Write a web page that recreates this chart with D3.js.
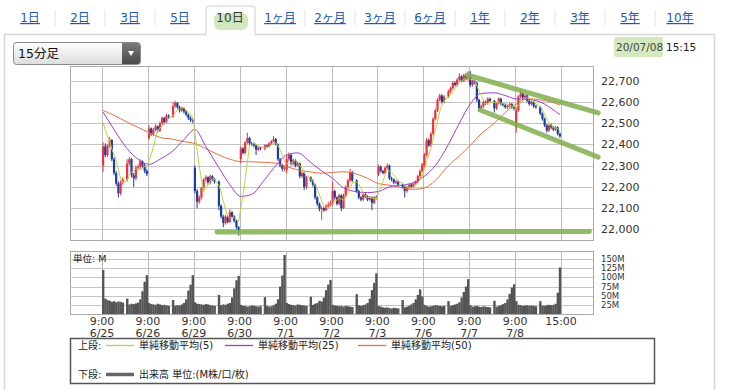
<!DOCTYPE html>
<html>
<head>
<meta charset="utf-8">
<script src="https://cdn.jsdelivr.net/npm/d3@7"></script>
<style>
  body { margin: 0; background: #fff; }
  svg { display: block; font-family: "DejaVu Sans", "Noto Sans CJK JP", sans-serif; }
</style>
</head>
<body>
<svg id="chart"></svg>
<script>
const d3 = window.d3;

// ---- data ----
const periodTabs = ["1日", "2日", "3日", "5日", "10日", "1ヶ月", "2ヶ月", "3ヶ月", "6ヶ月", "1年", "2年", "3年", "5年", "10年"];
const selectedTab = "10日";
const dayLabels = ["6/25", "6/26", "6/29", "6/30", "7/1", "7/2", "7/3", "7/6", "7/7", "7/8"];
const priceTicks = [22000, 22100, 22200, 22300, 22400, 22500, 22600, 22700];
const volumeTicks = [25, 50, 75, 100, 125, 150];

// 15 minute bars [open, high, low, close], 10 morning + 10 afternoon per day
const bars0625 = [[22300,22410,22270,22390],[22390,22405,22340,22350],[22350,22400,22340,22395],[22395,22435,22385,22420],[22420,22425,22320,22330],[22330,22340,22255,22265],[22265,22275,22205,22215],[22215,22225,22150,22170],[22170,22230,22160,22220],[22220,22245,22210,22235],
  [22235,22330,22225,22310],[22310,22340,22300,22330],[22330,22335,22245,22255],[22255,22265,22200,22240],[22240,22300,22230,22290],[22290,22305,22280,22295],[22295,22330,22285,22320],[22320,22325,22290,22300],[22300,22310,22265,22275],[22275,22285,22250,22260]];
const bars0626 = [[22430,22490,22420,22475],[22475,22480,22440,22450],[22450,22478,22440,22470],[22470,22495,22462,22485],[22485,22490,22455,22465],[22465,22508,22458,22500],[22500,22532,22492,22525],[22525,22530,22495,22505],[22505,22545,22500,22535],[22535,22542,22522,22530],
  [22530,22600,22525,22580],[22580,22605,22572,22595],[22595,22600,22568,22575],[22575,22582,22550,22560],[22560,22578,22552,22570],[22570,22575,22545,22555],[22555,22562,22532,22540],[22540,22545,22515,22525],[22525,22532,22505,22515],[22515,22522,22500,22512]];
const bars0629 = [[22290,22300,22170,22180],[22180,22190,22100,22130],[22130,22160,22120,22150],[22150,22200,22140,22195],[22195,22240,22185,22235],[22235,22255,22225,22245],[22245,22250,22210,22220],[22220,22258,22212,22250],[22250,22255,22228,22235],[22235,22242,22215,22225],
  [22225,22230,22090,22110],[22110,22118,22050,22060],[22060,22068,22010,22030],[22030,22068,22022,22060],[22060,22065,22028,22035],[22035,22095,22030,22080],[22080,22085,22052,22060],[22060,22066,22032,22040],[22040,22045,22002,22010],[22010,22015,21970,21995]];
const bars0630 = [[22330,22390,22310,22380],[22380,22388,22352,22360],[22360,22415,22352,22410],[22410,22455,22402,22430],[22430,22435,22398,22405],[22405,22412,22392,22400],[22400,22408,22385,22395],[22395,22400,22350,22375],[22375,22392,22368,22385],[22385,22390,22372,22380],
  [22380,22400,22372,22395],[22395,22400,22382,22390],[22390,22410,22385,22405],[22405,22420,22398,22415],[22415,22440,22410,22425],[22425,22430,22395,22400],[22400,22405,22322,22330],[22330,22336,22292,22300],[22300,22308,22272,22285],[22285,22298,22275,22290]];
const bars0701 = [[22280,22350,22265,22330],[22330,22362,22322,22350],[22350,22355,22300,22310],[22310,22332,22302,22325],[22325,22330,22292,22300],[22300,22318,22295,22310],[22310,22315,22240,22250],[22250,22272,22242,22265],[22265,22270,22185,22200],[22200,22252,22190,22245],
  [22245,22250,22222,22230],[22230,22236,22200,22210],[22210,22215,22140,22150],[22150,22156,22110,22120],[22120,22126,22085,22095],[22095,22110,22045,22100],[22100,22106,22082,22090],[22090,22118,22085,22110],[22110,22130,22102,22115],[22115,22135,22108,22121]];
const bars0702 = [[22120,22225,22110,22180],[22180,22186,22140,22150],[22150,22156,22112,22120],[22120,22168,22112,22160],[22160,22165,22085,22100],[22100,22168,22095,22160],[22160,22206,22152,22200],[22200,22238,22192,22230],[22230,22285,22222,22270],[22270,22275,22222,22230],
  [22230,22236,22172,22180],[22180,22186,22142,22150],[22150,22158,22132,22140],[22140,22172,22134,22165],[22165,22170,22148,22155],[22155,22160,22132,22140],[22140,22158,22134,22150],[22150,22155,22090,22125],[22125,22158,22118,22150],[22150,22160,22140,22146]];
const bars0703 = [[22260,22305,22250,22295],[22295,22300,22268,22275],[22275,22280,22258,22265],[22265,22295,22258,22290],[22290,22310,22282,22300],[22300,22305,22232,22240],[22240,22248,22226,22235],[22235,22240,22212,22220],[22220,22232,22212,22225],[22225,22230,22202,22210],
  [22210,22215,22192,22200],[22200,22206,22150,22180],[22180,22200,22172,22195],[22195,22215,22188,22210],[22210,22216,22192,22200],[22200,22220,22194,22215],[22215,22230,22208,22225],[22225,22256,22218,22250],[22250,22282,22242,22275],[22275,22312,22268,22306]];
const bars0706 = [[22300,22360,22290,22350],[22350,22430,22342,22420],[22420,22428,22388,22395],[22395,22458,22388,22450],[22450,22528,22442,22520],[22520,22568,22512,22560],[22560,22618,22552,22610],[22610,22638,22602,22630],[22630,22636,22592,22600],[22600,22632,22594,22625],
  [22625,22658,22618,22650],[22650,22672,22642,22665],[22665,22698,22658,22690],[22690,22696,22672,22680],[22680,22712,22674,22705],[22705,22735,22698,22720],[22720,22726,22692,22700],[22700,22732,22694,22725],[22725,22730,22702,22710],[22710,22745,22700,22714]];
const bars0707 = [[22720,22745,22670,22680],[22680,22708,22672,22700],[22700,22706,22682,22690],[22690,22696,22600,22610],[22610,22616,22555,22570],[22570,22588,22562,22580],[22580,22608,22572,22600],[22600,22606,22586,22595],[22595,22622,22588,22615],[22615,22620,22598,22605],
  [22605,22610,22550,22570],[22570,22600,22562,22595],[22595,22622,22588,22615],[22615,22620,22582,22590],[22590,22596,22578,22585],[22585,22592,22568,22575],[22575,22586,22566,22580],[22580,22596,22572,22590],[22590,22595,22568,22575],[22575,22582,22560,22570]];
const bars0708 = [[22480,22575,22455,22560],[22560,22632,22552,22625],[22625,22660,22618,22640],[22640,22646,22612,22620],[22620,22636,22612,22630],[22630,22635,22598,22605],[22605,22612,22582,22590],[22590,22606,22584,22600],[22600,22605,22572,22580],[22580,22586,22568,22575],
  [22575,22580,22538,22545],[22545,22550,22512,22520],[22520,22526,22482,22490],[22490,22496,22455,22465],[22465,22496,22458,22490],[22490,22498,22472,22480],[22480,22486,22462,22470],[22470,22488,22464,22480],[22480,22485,22442,22450],[22450,22456,22430,22438]];

// volume per bar, millions
const vol0625 = [120, 42, 38, 36, 33, 35, 32, 34, 33, 31, 42, 26, 28, 27, 29, 31, 40, 62, 88, 106];
const vol0626 = [30, 27, 26, 25, 28, 26, 24, 25, 23, 22, 38, 22, 24, 23, 26, 30, 40, 64, 80, 106];
const vol0629 = [32, 28, 27, 26, 25, 27, 26, 24, 23, 22, 52, 24, 26, 25, 28, 30, 45, 70, 92, 104];
const vol0630 = [25, 22, 22, 20, 21, 23, 22, 21, 20, 22, 46, 22, 20, 21, 24, 28, 40, 75, 105, 161];
const vol0701 = [30, 27, 25, 24, 23, 26, 25, 24, 23, 22, 47, 25, 28, 30, 36, 34, 45, 65, 80, 93];
const vol0702 = [25, 23, 22, 21, 22, 20, 22, 21, 20, 19, 54, 24, 22, 24, 26, 30, 42, 65, 85, 111];
const vol0703 = [22, 20, 18, 17, 18, 16, 15, 17, 16, 15, 38, 18, 20, 22, 26, 30, 40, 52, 67, 48];
const vol0706 = [25, 22, 20, 21, 22, 24, 23, 22, 21, 22, 35, 22, 24, 26, 28, 32, 45, 60, 75, 95];
const vol0707 = [24, 20, 21, 22, 20, 19, 21, 20, 19, 18, 36, 20, 22, 24, 27, 30, 40, 55, 72, 81];
const vol0708 = [35, 25, 24, 22, 23, 24, 22, 23, 22, 21, 35, 23, 22, 24, 25, 24, 25, 28, 58, 127];

// last closes of 6/24, needed for the first 5 bar average
const prevCloses = [22530, 22540, 22520, 22534];

// 25 and 50 bar averages, read every 5 bars (and the last bar)
const ma25Read = [22552, 22470, 22380, 22330, 22306, 22330, 22370, 22423, 22470, 22390, 22290, 22210, 22155, 22165, 22235, 22300, 22350, 22360, 22315, 22275, 22240, 22195, 22177, 22173, 22178, 22200, 22208, 22220, 22250, 22300, 22400, 22500, 22590, 22640, 22643, 22630, 22614, 22612, 22600, 22570, 22540];
const ma50Read = [22560, 22537, 22505, 22480, 22455, 22433, 22424, 22413, 22404, 22380, 22350, 22330, 22319, 22318, 22315, 22312, 22295, 22280, 22270, 22264, 22268, 22271, 22260, 22240, 22215, 22208, 22195, 22188, 22195, 22230, 22300, 22345, 22396, 22450, 22500, 22550, 22590, 22615, 22610, 22600, 22585];

// hand drawn trend lines: [slot, price]
const trendLines = [
  [[52.6, 21987], [223, 21990]],
  [[167, 22727], [227, 22548]],
  [[173, 22562], [227, 22340]]
];

const dayBars = [bars0625, bars0626, bars0629, bars0630, bars0701, bars0702, bars0703, bars0706, bars0707, bars0708];
const dayVols = [vol0625, vol0626, vol0629, vol0630, vol0701, vol0702, vol0703, vol0706, vol0707, vol0708];

// flatten: 21 time slots a day, slot 10 is the lunch break
const bars = [];
dayBars.forEach((day, d) => {
  day.forEach((b, j) => {
    bars.push({ slot: d * 21 + (j < 10 ? j : j + 1), o: b[0], h: b[1], l: b[2], c: b[3], v: dayVols[d][j] });
  });
});

// simple 5 bar average of closes
const closes = prevCloses.concat(bars.map(b => b.c));
const ma5 = bars.map((b, i) => ({ slot: b.slot, v: d3.mean(closes.slice(i, i + 5)) }));

const maIdx = d3.range(0, bars.length, 5).concat([bars.length - 1]);
const ma25 = maIdx.map((i, k) => ({ slot: bars[i].slot, v: ma25Read[k] }));
const ma50 = maIdx.map((i, k) => ({ slot: bars[i].slot, v: ma50Read[k] }));

// ---- layout ----
const W = 729, H = 390;
const plot = { left: 70, right: 593 };
const pricePanel = { top: 66, bottom: 240 };
const volPanel = { top: 251, bottom: 314 };

const svg = d3.select('#chart').attr('width', W).attr('height', H);

const x = d3.scaleLinear().domain([0, 210]).range([102, 561]);
const y = d3.scaleLinear().domain([22000, 22700]).range([229.3, 80.7]);
const yv = d3.scaleLinear().domain([0, 150]).range([314, 259]);

// outer panel
svg.append('rect')
  .attr('x', 4.5).attr('y', 34.5).attr('width', 710).attr('height', 370)
  .attr('fill', '#fff').attr('stroke', '#d6d6d6').attr('stroke-width', 1.5);

// ---- period tabs ----
const tabX = d3.scalePoint().domain(periodTabs).range([30, 680]);
const tabs = svg.append('g');
const selX = tabX(selectedTab);
tabs.append('path')
  .attr('d', `M${selX - 24},35 L${selX - 24},9 Q${selX - 24},6 ${selX - 21},6 L${selX + 22},6 Q${selX + 25},6 ${selX + 25},9 L${selX + 25},35`)
  .attr('fill', '#fff').attr('stroke', '#cfcfcf');
tabs.append('line')
  .attr('x1', selX - 23.5).attr('x2', selX + 24.5).attr('y1', 34.5).attr('y2', 34.5)
  .attr('stroke', '#fff').attr('stroke-width', 2);
// highlighter mark under the selected tab
tabs.append('rect')
  .attr('x', selX - 16).attr('y', 13).attr('width', 34).attr('height', 17).attr('rx', 6)
  .attr('fill', '#a9d58a').attr('opacity', 0.55);

periodTabs.forEach((t, i) => {
  if (i > 0 && t !== selectedTab && periodTabs[i - 1] !== selectedTab) {
    const sx = (tabX(t) + tabX(periodTabs[i - 1])) / 2;
    tabs.append('line').attr('x1', sx).attr('x2', sx).attr('y1', 10).attr('y2', 26)
      .attr('stroke', '#e2e2e2');
  }
  tabs.append('text')
    .attr('x', tabX(t)).attr('y', 22)
    .attr('text-anchor', 'middle')
    .attr('font-size', 12)
    .attr('fill', t === selectedTab ? '#333' : '#2358b0')
    .attr('text-decoration', t === selectedTab ? 'none' : 'underline')
    .text(t);
});

// ---- interval dropdown ----
const defs = svg.append('defs');
const g1 = defs.append('linearGradient').attr('id', 'selBg').attr('x1', 0).attr('x2', 0).attr('y1', 0).attr('y2', 1);
g1.append('stop').attr('offset', '0%').attr('stop-color', '#ffffff');
g1.append('stop').attr('offset', '100%').attr('stop-color', '#dcdcdc');
const g2 = defs.append('linearGradient').attr('id', 'selBtn').attr('x1', 0).attr('x2', 0).attr('y1', 0).attr('y2', 1);
g2.append('stop').attr('offset', '0%').attr('stop-color', '#7a7a7a');
g2.append('stop').attr('offset', '100%').attr('stop-color', '#4a4a4a');

svg.append('rect').attr('x', 13.5).attr('y', 42.5).attr('width', 127).attr('height', 22).attr('rx', 3)
  .attr('fill', 'url(#selBg)').attr('stroke', '#8a8a8a');
svg.append('path').attr('d', 'M122,43 L137.5,43 Q140,43 140,45.5 L140,61.5 Q140,64 137.5,64 L122,64 Z')
  .attr('fill', 'url(#selBtn)');
svg.append('path').attr('d', 'M128,51 L134,51 L131,56 Z').attr('fill', '#fff');
svg.append('text').attr('x', 18).attr('y', 58).attr('font-size', 12.5).attr('fill', '#111').text('15分足');

// ---- timestamp ----
svg.append('rect').attr('x', 614).attr('y', 37).attr('width', 49).attr('height', 20).attr('rx', 2)
  .attr('fill', '#d3eac0');
svg.append('text').attr('x', 616).attr('y', 51).attr('font-size', 10.5).attr('fill', '#444').text('20/07/08');
svg.append('text').attr('x', 666).attr('y', 51).attr('font-size', 10.5).attr('fill', '#222').text('15:15');

// ---- grids ----
const dayTicks = d3.range(0, 210, 21);
const vTicks = dayTicks.concat([210]);

function panelGrid(top, bottom, hTicks, scale) {
  const g = svg.append('g');
  g.append('rect').attr('x', plot.left + 0.5).attr('y', top + 0.5)
    .attr('width', plot.right - plot.left).attr('height', bottom - top)
    .attr('fill', '#fff').attr('stroke', '#a8a8a8');
  g.selectAll('line.h').data(hTicks).join('line')
    .attr('x1', plot.left).attr('x2', plot.right)
    .attr('y1', d => Math.round(scale(d)) + 0.5).attr('y2', d => Math.round(scale(d)) + 0.5)
    .attr('stroke', '#c4c4c4');
  g.selectAll('line.v').data(vTicks).join('line')
    .attr('x1', d => Math.round(x(d)) + 0.5).attr('x2', d => Math.round(x(d)) + 0.5)
    .attr('y1', top).attr('y2', bottom)
    .attr('stroke', '#bcbcbc');
  return g;
}

panelGrid(pricePanel.top, pricePanel.bottom, priceTicks, y);
panelGrid(volPanel.top, volPanel.bottom, volumeTicks, yv);

// price labels
svg.append('g').selectAll('text').data(priceTicks).join('text')
  .attr('x', 601).attr('y', d => y(d) + 4)
  .attr('font-size', 11).attr('fill', '#333')
  .text(d => d3.format(',')(d));

// volume labels
svg.append('g').selectAll('text').data(volumeTicks).join('text')
  .attr('x', 601).attr('y', d => yv(d) + 3)
  .attr('font-size', 8.5).attr('fill', '#333')
  .text(d => d + 'M');

svg.append('text').attr('x', 73).attr('y', 262).attr('font-size', 9.5).attr('fill', '#222').text('単位: M');

// time labels
const timeLabels = svg.append('g').attr('font-size', 11).attr('fill', '#333').attr('text-anchor', 'middle');
dayTicks.forEach((t, d) => {
  timeLabels.append('text').attr('x', x(t)).attr('y', 325).text('9:00');
  timeLabels.append('text').attr('x', x(t)).attr('y', 337).text(dayLabels[d]);
});
timeLabels.append('text').attr('x', x(210)).attr('y', 325).text('15:00');

// ---- candles ----
const upColor = '#e8343c', downColor = '#1b3d9e';
const candles = svg.append('g');
candles.selectAll('line').data(bars).join('line')
  .attr('x1', d => x(d.slot + 0.5)).attr('x2', d => x(d.slot + 0.5))
  .attr('y1', d => y(d.h)).attr('y2', d => y(d.l))
  .attr('stroke', d => d.c >= d.o ? upColor : downColor).attr('stroke-width', 1);
candles.selectAll('rect').data(bars).join('rect')
  .attr('x', d => x(d.slot + 0.5) - 1.1).attr('width', 2.2)
  .attr('y', d => y(Math.max(d.o, d.c)))
  .attr('height', d => Math.max(1, Math.abs(y(d.o) - y(d.c))))
  .attr('fill', d => d.c >= d.o ? upColor : downColor);

// ---- moving averages ----
const maLine = d3.line().x(d => x(d.slot + 0.5)).y(d => y(d.v));
svg.append('path').datum(ma50).attr('d', maLine.curve(d3.curveMonotoneX))
  .attr('fill', 'none').attr('stroke', '#e8703c').attr('stroke-width', 1);
svg.append('path').datum(ma25).attr('d', maLine.curve(d3.curveMonotoneX))
  .attr('fill', 'none').attr('stroke', '#a03cd2').attr('stroke-width', 1);
svg.append('path').datum(ma5).attr('d', maLine.curve(d3.curveLinear))
  .attr('fill', 'none').attr('stroke', '#b9d43c').attr('stroke-width', 1);

// ---- volume ----
svg.append('g').selectAll('rect').data(bars).join('rect')
  .attr('x', d => x(d.slot)).attr('width', d => x(d.slot + 1) - x(d.slot) + 0.2)
  .attr('y', d => yv(d.v)).attr('height', d => yv(0) - yv(d.v))
  .attr('fill', '#555');

// ---- hand drawn trend lines ----
svg.append('g').selectAll('line').data(trendLines).join('line')
  .attr('x1', d => x(d[0][0])).attr('y1', d => y(d[0][1]))
  .attr('x2', d => x(d[1][0])).attr('y2', d => y(d[1][1]))
  .attr('stroke', '#7fae4c').attr('stroke-opacity', 0.85)
  .attr('stroke-width', 5).attr('stroke-linecap', 'round');

// ---- legend ----
const legend = svg.append('g').attr('font-size', 10).attr('fill', '#222');
legend.append('rect').attr('x', 70.5).attr('y', 338.5).attr('width', 584).attr('height', 45)
  .attr('fill', '#fff').attr('stroke', '#555').attr('stroke-width', 1.5);
legend.append('text').attr('x', 78).attr('y', 349).text('上段:');
const legendItems = [
  { label: '単純移動平均(5)', color: '#b9d43c', x0: 106 },
  { label: '単純移動平均(25)', color: '#a03cd2', x0: 225 },
  { label: '単純移動平均(50)', color: '#e8703c', x0: 358 }
];
legendItems.forEach(it => {
  legend.append('line').attr('x1', it.x0).attr('x2', it.x0 + 28).attr('y1', 345.5).attr('y2', 345.5)
    .attr('stroke', it.color).attr('stroke-width', 1.3);
  legend.append('text').attr('x', it.x0 + 33).attr('y', 349).text(it.label);
});
legend.append('text').attr('x', 78).attr('y', 378).text('下段:');
legend.append('line').attr('x1', 106).attr('x2', 134).attr('y1', 374.5).attr('y2', 374.5)
  .attr('stroke', '#666').attr('stroke-width', 3.5);
legend.append('text').attr('x', 139).attr('y', 378).text('出来高 単位:(M株/口/枚)');
</script>
</body>
</html>
